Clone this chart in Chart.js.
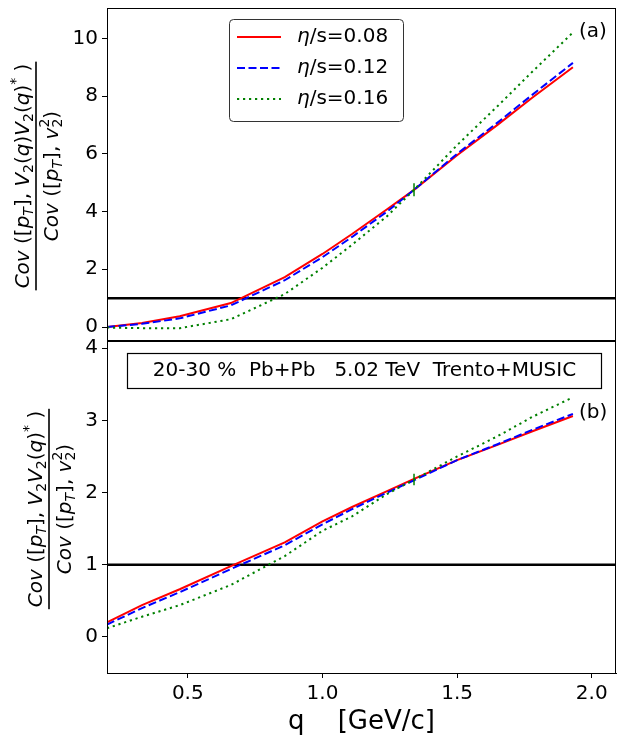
<!DOCTYPE html>
<html>
<head>
<meta charset="utf-8">
<script src="https://cdn.jsdelivr.net/npm/chart.js@4"></script>
<style>
html, body { margin: 0; padding: 0; background: #fff; }
#wrap { position: relative; width: 617px; height: 739px; }
canvas { position: absolute; left: 0; top: 0; }
</style>
</head>
<body>
<div id="wrap">
  <canvas id="topChart" width="617" height="739"></canvas>
  <canvas id="botChart" width="617" height="739"></canvas>
</div>
<script>
// data
const qValues = [0.2, 0.33, 0.47, 0.66, 0.86, 1.0, 1.11, 1.24, 1.34, 1.5, 1.65, 1.78, 1.93];
const topEta008 = [0.0, 0.14, 0.37, 0.83, 1.73, 2.53, 3.22, 4.08, 4.75, 5.95, 7.0, 7.95, 9.0];
const topEta012 = [0.0, 0.11, 0.3, 0.75, 1.62, 2.42, 3.12, 4.0, 4.75, 6.0, 7.08, 8.05, 9.15];
const topEta016 = [-0.02, -0.04, -0.04, 0.27, 1.14, 2.05, 2.85, 3.84, 4.75, 6.3, 7.65, 8.85, 10.2];
const botEta008 = [0.2, 0.44, 0.66, 0.98, 1.31, 1.6, 1.8, 2.02, 2.19, 2.45, 2.66, 2.85, 3.06];
const botEta012 = [0.17, 0.4, 0.62, 0.94, 1.27, 1.56, 1.77, 2.0, 2.17, 2.45, 2.67, 2.87, 3.09];
const botEta016 = [0.12, 0.28, 0.44, 0.72, 1.12, 1.47, 1.67, 1.98, 2.18, 2.5, 2.78, 3.05, 3.32];
const errQ = 1.34;
const topErr = [4.53, 4.98];
const botErr = [2.1, 2.26];
const seriesLabels = ['0.08', '0.12', '0.16'];
const xTicks = [0.5, 1.0, 1.5, 2.0];
const topYTicks = [0, 2, 4, 6, 8, 10];
const botYTicks = [0, 1, 2, 3, 4];
const xMin = 0.2, xMax = 2.09;

Chart.defaults.font.family = 'DejaVu Sans';
Chart.defaults.color = '#000';

const colors = ['#ff0000', '#0000ff', '#008000'];
const dashes = [[], [8, 3.5], [2.2, 3.8]];

function pts(ys) { return qValues.map((q, i) => ({ x: q, y: ys[i] })); }

function makeDatasets(series, err) {
  const ds = [{
    data: [{ x: xMin, y: 1 }, { x: xMax, y: 1 }],
    borderColor: '#000', borderWidth: 2.5, order: 5
  }];
  series.forEach((s, i) => {
    ds.push({
      label: 'η/s=' + seriesLabels[i],
      data: pts(s),
      borderColor: colors[i], borderWidth: 2, borderDash: dashes[i],
      order: 3 - i
    });
  });
  ds.push({
    data: [{ x: errQ, y: err[0] }, { x: errQ, y: err[1] }],
    borderColor: colors[2], borderWidth: 1.5, order: 0
  });
  ds.forEach(d => { d.showLine = true; d.pointRadius = 0; d.tension = 0; d.fill = false; });
  return ds;
}

// y label as a fraction, drawn rotated
function runWidth(ctx, segs, size) {
  let w = 0;
  segs.forEach(s => {
    const sz = s.s ? size * 0.7 : size;
    ctx.font = (s.i ? 'italic ' : '') + sz + 'px DejaVu Sans';
    if (!s.stay) w += ctx.measureText(s.t).width;
  });
  return w;
}
function drawRun(ctx, segs, x, y, size) {
  segs.forEach(s => {
    const sz = s.s ? size * 0.7 : size;
    ctx.font = (s.i ? 'italic ' : '') + sz + 'px DejaVu Sans';
    const dy = s.s === -1 ? size * 0.22 : (s.s === 1 ? -size * 0.42 : 0);
    ctx.fillText(s.t, x, y + dy);
    if (!s.stay) x += ctx.measureText(s.t).width;
  });
}
function drawFraction(ctx, cx, cy, num, den, size) {
  ctx.save();
  ctx.translate(cx, cy);
  ctx.rotate(-Math.PI / 2);
  ctx.fillStyle = '#000';
  ctx.textBaseline = 'alphabetic';
  ctx.textAlign = 'left';
  const wN = runWidth(ctx, num, size), wD = runWidth(ctx, den, size);
  const w = Math.max(wN, wD) + 4;
  drawRun(ctx, num, -wN / 2, -7.5, size);
  drawRun(ctx, den, -wD / 2, 21.5, size);
  ctx.fillRect(-w / 2, -0.8, w, 1.6);
  ctx.restore();
}

const denSegs = [
  { t: 'Cov', i: 1 }, { t: ' ([' }, { t: 'p', i: 1 }, { t: 'T', i: 1, s: -1 }, { t: '], ' },
  { t: 'v', i: 1 }, { t: '2', s: 1, stay: 1 }, { t: '2', s: -1 }, { t: ')' }
];
const topNum = [
  { t: 'Cov', i: 1 }, { t: ' ([' }, { t: 'p', i: 1 }, { t: 'T', i: 1, s: -1 }, { t: '], ' },
  { t: 'V', i: 1 }, { t: '2', s: -1 }, { t: '(' }, { t: 'q', i: 1 }, { t: ')' },
  { t: 'V', i: 1 }, { t: '2', s: -1 }, { t: '(' }, { t: 'q', i: 1 }, { t: ')' },
  { t: '*', s: 1 }, { t: ' )' }
];
const botNum = [
  { t: 'Cov', i: 1 }, { t: ' ([' }, { t: 'p', i: 1 }, { t: 'T', i: 1, s: -1 }, { t: '], ' },
  { t: 'V', i: 1 }, { t: '2', s: -1 }, { t: 'V', i: 1 }, { t: '2', s: -1 },
  { t: '(' }, { t: 'q', i: 1 }, { t: ')' }, { t: '*', s: 1 }, { t: ' )' }
];

const framePlugin = {
  id: 'frame',
  afterDraw(chart) {
    const { ctx, chartArea: a } = chart;
    ctx.save();
    ctx.strokeStyle = '#000';
    ctx.lineWidth = 1;
    ctx.strokeRect(a.left + 0.5, a.top + 0.5, a.right - a.left - 1, a.bottom - a.top);
    ctx.restore();
  }
};

const topExtras = {
  id: 'topExtras',
  afterDraw(chart) {
    const { ctx } = chart;
    drawFraction(ctx, 36, 176, topNum, denSegs, 20);
    ctx.save();
    // legend
    ctx.beginPath();
    ctx.roundRect(229.5, 19.5, 174, 102, 4);
    ctx.fillStyle = 'rgba(255,255,255,0.8)';
    ctx.fill();
    ctx.strokeStyle = '#333';
    ctx.lineWidth = 1;
    ctx.stroke();
    const rowY = [37, 68, 99];
    chart.data.datasets.slice(1, 4).forEach((d, i) => {
      ctx.beginPath();
      ctx.setLineDash(dashes[i]);
      ctx.strokeStyle = colors[i];
      ctx.lineWidth = 2;
      ctx.moveTo(237, rowY[i]);
      ctx.lineTo(281, rowY[i]);
      ctx.stroke();
      ctx.setLineDash([]);
      ctx.fillStyle = '#000';
      ctx.textBaseline = 'middle';
      ctx.font = 'italic 20px DejaVu Sans';
      ctx.fillText('η', 297, rowY[i]);
      const w = ctx.measureText('η').width;
      ctx.font = '20px DejaVu Sans';
      ctx.fillText('/s=' + seriesLabels[i], 297 + w, rowY[i]);
    });
    ctx.font = '20px DejaVu Sans';
    ctx.textBaseline = 'middle';
    ctx.fillText('(a)', 579, 32);
    ctx.restore();
  }
};

const botExtras = {
  id: 'botExtras',
  afterDraw(chart) {
    const { ctx } = chart;
    drawFraction(ctx, 49, 509, botNum, denSegs, 20);
    ctx.save();
    ctx.fillStyle = '#fff';
    ctx.fillRect(127.5, 353.5, 474, 35);
    ctx.strokeStyle = '#000';
    ctx.lineWidth = 1.2;
    ctx.strokeRect(127.5, 353.5, 474, 35);
    ctx.fillStyle = '#000';
    ctx.font = '20px DejaVu Sans';
    ctx.textBaseline = 'middle';
    ctx.textAlign = 'center';
    ctx.fillText('20-30 %  Pb+Pb   5.02 TeV  Trento+MUSIC', 364.5, 371);
    ctx.textAlign = 'left';
    ctx.fillText('(b)', 579, 413);
    ctx.restore();
  }
};

function yScale(min, max, ticks) {
  return {
    min: min, max: max,
    afterFit: s => { s.width = 107; s.paddingTop = 0; s.paddingBottom = 0; },
    afterBuildTicks: s => { s.ticks = ticks.map(v => ({ value: v })); },
    ticks: { font: { size: 20 }, color: '#000', padding: 4 },
    grid: { drawOnChartArea: false, drawTicks: true, tickLength: 5, color: '#000' },
    border: { color: '#000', width: 1 }
  };
}

new Chart(document.getElementById('topChart').getContext('2d'), {
  type: 'scatter',
  data: { datasets: makeDatasets([topEta008, topEta012, topEta016], topErr) },
  options: {
    responsive: false,
    animation: false,
    layout: { padding: { left: 0, top: 8, right: 1, bottom: 739 - 340 } },
    plugins: { legend: { display: false }, tooltip: { enabled: false } },
    scales: {
      x: { type: 'linear', min: xMin, max: xMax, display: false },
      y: yScale(-0.45, 11.05, topYTicks)
    }
  },
  plugins: [framePlugin, topExtras]
});

new Chart(document.getElementById('botChart').getContext('2d'), {
  type: 'scatter',
  data: { datasets: makeDatasets([botEta008, botEta012, botEta016], botErr) },
  options: {
    responsive: false,
    animation: false,
    layout: { padding: { left: 0, top: 341, right: 1, bottom: 0 } },
    plugins: { legend: { display: false }, tooltip: { enabled: false } },
    scales: {
      x: {
        type: 'linear', min: xMin, max: xMax,
        afterFit: s => { s.height = 739 - 673; },
        afterBuildTicks: s => { s.ticks = xTicks.map(v => ({ value: v })); },
        ticks: { font: { size: 20 }, color: '#000', padding: 4, callback: v => v.toFixed(1) },
        grid: { drawOnChartArea: false, drawTicks: true, tickLength: 5, color: '#000' },
        border: { color: '#000', width: 1 },
        title: { display: true, text: 'q    [GeV/c]', font: { size: 26 }, color: '#000', padding: { top: 0, bottom: 1 } }
      },
      y: yScale(-0.5, 4.1, botYTicks)
    }
  },
  plugins: [framePlugin, botExtras]
});
</script>
</body>
</html>
